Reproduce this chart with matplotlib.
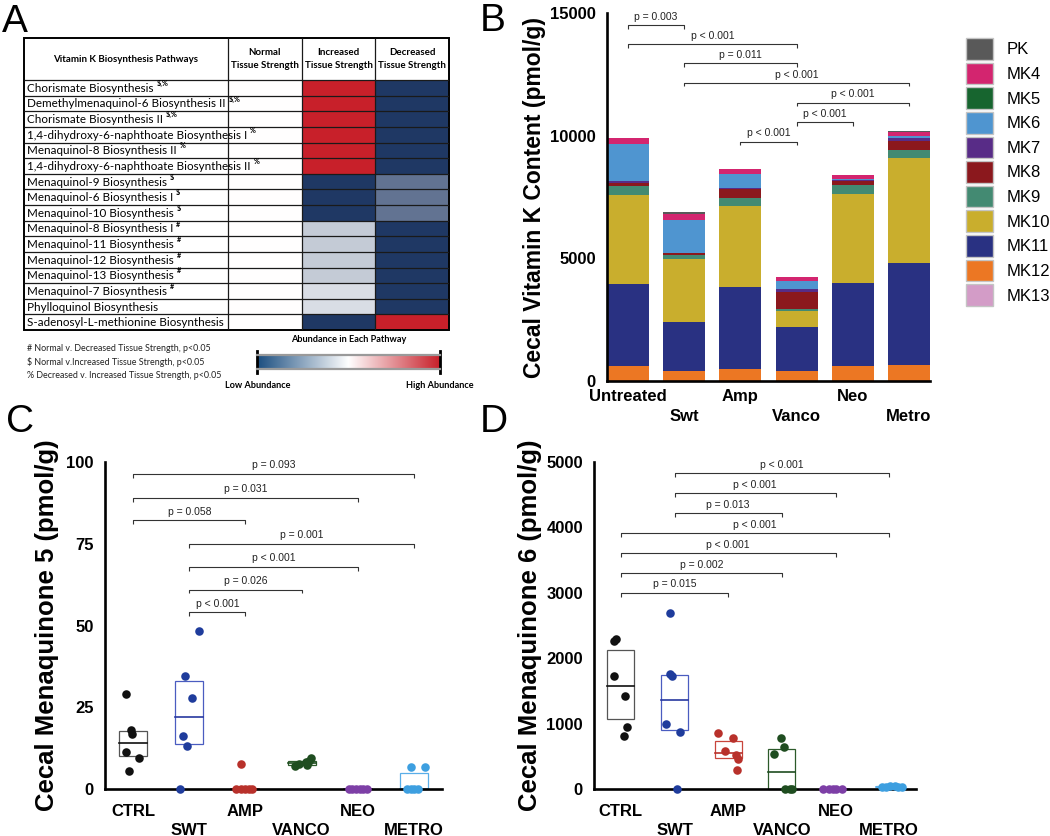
import numpy as np
import matplotlib.pyplot as plt
from matplotlib.patches import Patch, Rectangle
from matplotlib.colors import LinearSegmentedColormap

plt.rcParams['font.family'] = ['Liberation Sans', 'DejaVu Sans']

# ---------------- Panel A data ----------------
pathways = [
    "Chorismate Biosynthesis", "Demethylmenaquinol-6 Biosynthesis II",
    "Chorismate Biosynthesis II", "1,4-dihydroxy-6-naphthoate Biosynthesis I",
    "Menaquinol-8 Biosynthesis II", "1,4-dihydroxy-6-naphthoate Biosynthesis II",
    "Menaquinol-9 Biosynthesis", "Menaquinol-6 Biosynthesis I",
    "Menaquinol-10 Biosynthesis", "Menaquinol-8 Biosynthesis I",
    "Menaquinol-11 Biosynthesis", "Menaquinol-12 Biosynthesis",
    "Menaquinol-13 Biosynthesis", "Menaquinol-7 Biosynthesis",
    "Phylloquinol Biosynthesis", "S-adenosyl-L-methionine Biosynthesis",
]
pathway_marks = ["$,%", "$,%", "$,%", "%", "%", "%", "$", "$", "$",
                 "#", "#", "#", "#", "#", "", ""]
strength_cols = ["Normal\nTissue Strength", "Increased\nTissue Strength",
                 "Decreased\nTissue Strength"]
# relative abundance, -1 = low, 0 = neutral, 1 = high
abund_normal = [0] * 16
abund_increased = [1, 1, 1, 1, 1, 1, -1, -1, -1, -0.26, -0.26, -0.26, -0.26, -0.17, -0.17, -1]
abund_decreased = [-1, -1, -1, -1, -1, -1, -0.7, -0.7, -0.7, -1, -1, -1, -1, -1, -1, 1]
footnotes = ["# Normal v. Decreased Tissue Strength, p<0.05",
             "$ Normal v.Increased Tissue Strength, p<0.05",
             "% Decreased v. Increased Tissue Strength, p<0.05"]

# ---------------- Panel B data ----------------
b_groups = ["Untreated", "Swt", "Amp", "Vanco", "Neo", "Metro"]
vk_names = ["PK", "MK4", "MK5", "MK6", "MK7", "MK8", "MK9", "MK10", "MK11", "MK12", "MK13"]
vk_colors = ["#595959", "#d3256f", "#17652f", "#4f95d0", "#582c87", "#8b181d",
             "#438a72", "#c9ae2d", "#293182", "#ec7723", "#d39cc7"]
pk = [0, 50, 0, 0, 0, 40]
mk4 = [245, 245, 200, 165, 170, 170]
mk5 = [0, 0, 0, 0, 0, 0]
mk6 = [1530, 1350, 580, 325, 30, 70]
mk7 = [50, 30, 30, 120, 40, 120]
mk8 = [160, 80, 400, 690, 200, 370]
mk9 = [330, 160, 290, 85, 330, 330]
mk10 = [3660, 2560, 3330, 645, 3660, 4300]
mk11 = [3340, 2000, 3330, 1800, 3370, 4150]
mk12 = [600, 400, 490, 400, 610, 650]
mk13 = [0, 0, 0, 0, 0, 0]
vk_values = [pk, mk4, mk5, mk6, mk7, mk8, mk9, mk10, mk11, mk12, mk13]

b_pairs = [(0, 1), (0, 3), (1, 3), (1, 5), (3, 5), (3, 4), (2, 3)]
b_heights = [14500, 13720, 12950, 12150, 11350, 10550, 9760]
b_pvals = ["p = 0.003", "p < 0.001", "p = 0.011", "p < 0.001", "p < 0.001", "p < 0.001", "p < 0.001"]

# ---------------- Panels C / D data ----------------
cd_groups = ["CTRL", "SWT", "AMP", "VANCO", "NEO", "METRO"]
cd_colors = ["#111111", "#1f3c9c", "#b8312b", "#1f4d20", "#7d3fa6", "#3d9fe0"]
box_colors = ["#555555", "#4a5cc0", "#c8453c", "#2c5a2a", "#7d3fa6", "#5aaee8"]
med_colors = ["#111111", "#2838a0", "#b8312b", "#1f4d20", "#7d3fa6", "#5aaee8"]

mk5_values = [
    [29.1, 17.9, 16.9, 11.3, 9.6, 5.4],
    [48.4, 34.7, 27.8, 16.1, 13.1, 0],
    [7.6, 0, 0, 0, 0, 0],
    [7.0, 7.3, 9.5, 8.6, 8.3, 7.6],
    [0, 0, 0, 0, 0, 0],
    [6.6, 6.8, 0, 0, 0, 0],
]
mk5_jitter = [
    [-0.12, -0.04, -0.02, -0.12, 0.11, -0.07],
    [0.18, -0.07, 0.05, -0.11, -0.04, -0.16],
    [-0.07, -0.16, -0.08, 0.0, 0.06, 0.12],
    [-0.12, 0.1, 0.16, 0.13, 0.07, -0.05],
    [-0.16, -0.1, -0.04, 0.04, 0.1, 0.16],
    [-0.05, 0.2, -0.12, 0.07, -0.05, 0.0],
]
c_pairs = [(0, 5), (0, 4), (0, 2), (1, 5), (1, 4), (1, 3), (1, 2)]
c_heights = [96.4, 89.1, 82.3, 75.0, 68.0, 61.0, 54.0]
c_pvals = ["p = 0.093", "p = 0.031", "p = 0.058", "p = 0.001", "p < 0.001", "p = 0.026", "p < 0.001"]

mk6_values = [
    [2294, 2263, 1728, 1422, 948, 810],
    [2690, 1758, 1728, 994, 872, 0],
    [856, 780, 581, 520, 459, 290],
    [780, 642, 535, 0, 0, 0],
    [0, 0, 0, 0, 0],
    [25, 35, 40, 45, 35, 30],
]
mk6_jitter = [
    [-0.09, -0.13, -0.13, 0.07, 0.11, 0.06],
    [-0.09, -0.09, -0.04, -0.15, 0.11, 0.04],
    [-0.19, 0.09, -0.06, 0.15, 0.19, 0.17],
    [-0.02, 0.04, -0.15, 0.06, 0.15, 0.19],
    [-0.24, -0.13, -0.04, 0.0, 0.13],
    [-0.13, -0.05, 0.02, 0.1, 0.17, 0.24],
]
d_pairs = [(1, 5), (1, 4), (1, 3), (0, 5), (0, 4), (0, 3), (0, 2)]
d_heights = [4830, 4525, 4220, 3915, 3610, 3300, 3000]
d_pvals = ["p < 0.001", "p < 0.001", "p = 0.013", "p < 0.001", "p < 0.001", "p = 0.002", "p = 0.015"]

# ---------------- figure ----------------
W, H = 1050, 836
fig = plt.figure(figsize=(W / 100, H / 100), dpi=100)


def px_axes(x0, y0, x1, y1):
    return fig.add_axes([x0 / W, 1 - y1 / H, (x1 - x0) / W, (y1 - y0) / H])


def bracket(ax, i, j, y, label, drop):
    ax.plot([i, i, j, j], [y - drop, y, y, y - drop], color="#333333", lw=0.8,
            clip_on=False, solid_capstyle="butt")
    ax.annotate(label, xy=((i + j) / 2, y), xytext=(0, 6), textcoords="offset points",
                ha="center", va="center", fontsize=7.5, color="#222222")


def style_axes(ax, labels, xpad):
    for s in ["top", "right"]:
        ax.spines[s].set_visible(False)
    for s in ["left", "bottom"]:
        ax.spines[s].set_linewidth(1.9)
    ax.tick_params(length=0, labelsize=12)
    ax.tick_params(axis="y", pad=8)
    ax.tick_params(axis="x", pad=xpad)
    ax.set_xticks(range(len(labels)))
    ax.set_xticklabels([t if k % 2 == 0 else "\n" + t for k, t in enumerate(labels)])
    for lbl in ax.get_xticklabels() + ax.get_yticklabels():
        lbl.set_fontweight("bold")
        lbl.set_linespacing(1.35)


# ---- Panel A: table heatmap ----
heat_cmap = LinearSegmentedColormap.from_list("heat", ["#1f3864", "#ffffff", "#c8202a"])
bar_cmap = LinearSegmentedColormap.from_list("abund", ["#1b4e80", "#ffffff", "#c8202a"])

ax_a = px_axes(24, 38, 449, 330)
ax_a.set_xlim(0, 425)
ax_a.set_ylim(292, 0)
ax_a.axis("off")
name_w, head_h = 204, 42
col_w = (425 - name_w) / 3
row_h = (292 - head_h) / len(pathways)
x_edges = name_w + col_w * np.arange(4)
y_edges = head_h + row_h * np.arange(len(pathways) + 1)
grid = np.column_stack([abund_normal, abund_increased, abund_decreased])
ax_a.pcolormesh(x_edges, y_edges, grid, cmap=heat_cmap, vmin=-1, vmax=1)
ax_a.hlines(y_edges, 0, 425, colors="#1a1a1a", lw=0.9)
ax_a.vlines(x_edges, 0, 292, colors="#1a1a1a", lw=0.9)
ax_a.add_patch(Rectangle((0, 0), 425, 292, fill=False, lw=1.4, ec="black", clip_on=False))

tfont = ["Lato", "DejaVu Sans"]
ax_a.text(name_w / 2, head_h / 2, "Vitamin K Biosynthesis Pathways", ha="center", va="center",
          fontsize=7, fontweight="bold", family=tfont)
for k, col in enumerate(strength_cols):
    ax_a.text(x_edges[k] + col_w / 2, head_h / 2, col, ha="center", va="center",
              fontsize=7, fontweight="bold", family=tfont, linespacing=1.5)
for k, (name, mark) in enumerate(zip(pathways, pathway_marks)):
    t = ax_a.text(3, y_edges[k] + row_h / 2 + 0.5, name, ha="left", va="center",
                  fontsize=8.4, family=tfont)
    if mark:
        # superscript significance marks just after the pathway name
        ax_a.annotate(mark, xy=(1, 0.62), xycoords=t, xytext=(2, 0),
                      textcoords="offset points", ha="left", va="bottom",
                      fontsize=5.2, fontweight="bold", family=tfont)

for k, note in enumerate(footnotes):
    fig.text(27 / W, 1 - (348 + 13.5 * k) / H, note, ha="left", va="center",
             fontsize=6.4, family=tfont, color="#222222")
fig.text(349 / W, 1 - 339 / H, "Abundance in Each Pathway", ha="center", va="center",
         fontsize=6.6, fontweight="bold", family=tfont)
fig.text(258 / W, 1 - 385 / H, "Low Abundance", ha="center", va="center",
         fontsize=6.6, fontweight="bold", family=tfont)
fig.text(440 / W, 1 - 385 / H, "High Abundance", ha="center", va="center",
         fontsize=6.6, fontweight="bold", family=tfont)

ax_cb = px_axes(257, 355, 440, 369)
ax_cb.imshow(np.linspace(-1, 1, 256)[None, :], aspect="auto", cmap=bar_cmap,
             extent=(0, 1, 0, 1))
ax_cb.set_xticks([])
ax_cb.set_yticks([])
for s in ["left", "right"]:
    ax_cb.spines[s].set_visible(False)
for s in ["top", "bottom"]:
    ax_cb.spines[s].set_color("#9a9a9a")
    ax_cb.spines[s].set_linewidth(1.6)
for xe in [0, 1]:
    ax_cb.plot([xe, xe], [-0.3, 1.3], color="black", lw=2, clip_on=False)
ax_cb.set_xlim(0, 1)
ax_cb.set_ylim(0, 1)

# ---- Panel B: stacked bars ----
ax_b = px_axes(607, 13, 930, 381)
xb = np.arange(len(b_groups))
bottom = np.zeros(len(b_groups))
for name, color, vals in reversed(list(zip(vk_names, vk_colors, vk_values))):
    ax_b.bar(xb, vals, width=0.75, bottom=bottom, color=color, edgecolor="none")
    bottom += np.array(vals)
ax_b.set_xlim(-0.375, 5.375)
ax_b.set_ylim(0, 15000)
ax_b.set_yticks([0, 5000, 10000, 15000])
style_axes(ax_b, b_groups, 6)
ax_b.set_ylabel("Cecal Vitamin K Content (pmol/g)", fontsize=16.5, fontweight="bold", labelpad=3)
for (i, j), y, p in zip(b_pairs, b_heights, b_pvals):
    bracket(ax_b, i, j, y, p, 140)

handles = [Patch(facecolor=c, edgecolor="#c4c4c4", lw=1) for c in vk_colors]
fig.legend(handles, vk_names, loc="upper left", bbox_to_anchor=(966 / W, 1 - 38 / H),
           frameon=False, fontsize=12, handlelength=1.62, handleheight=1.62,
           labelspacing=0.18, handletextpad=0.84, borderpad=0, borderaxespad=0)


# ---- Panels C and D: dot + box plots ----
def dot_box(ax, values, jitter, pairs, heights, pvals, drop):
    for g, (vals, jit) in enumerate(zip(values, jitter)):
        q1, med, q3 = np.percentile(vals, [25, 50, 75])
        ax.add_patch(Rectangle((g - 0.25, q1), 0.5, q3 - q1, fill=False,
                               ec=box_colors[g], lw=0.9, clip_on=False, zorder=2))
        ax.plot([g - 0.25, g + 0.25], [med, med], color=med_colors[g], lw=1.2,
                clip_on=False, zorder=2)
        ax.scatter(g + np.array(jit), vals, s=38, color=cd_colors[g], lw=0,
                   clip_on=False, zorder=3)
    for (i, j), y, p in zip(pairs, heights, pvals):
        bracket(ax, i, j, y, p, drop)
    ax.set_xlim(-0.5, 5.5)


ax_c = px_axes(105, 462, 442, 789)
dot_box(ax_c, mk5_values, mk5_jitter, c_pairs, c_heights, c_pvals, 1.2)
ax_c.set_ylim(0, 100)
ax_c.set_yticks([0, 25, 50, 75, 100])
style_axes(ax_c, cd_groups, 10.5)
ax_c.set_ylabel("Cecal Menaquinone 5 (pmol/g)", fontsize=18.5, fontweight="bold", labelpad=5)

ax_d = px_axes(594, 462, 916, 789)
dot_box(ax_d, mk6_values, mk6_jitter, d_pairs, d_heights, d_pvals, 60)
ax_d.set_ylim(0, 5000)
ax_d.set_yticks([0, 1000, 2000, 3000, 4000, 5000])
style_axes(ax_d, cd_groups, 10.5)
ax_d.set_ylabel("Cecal Menaquinone 6 (pmol/g)", fontsize=18.5, fontweight="bold", labelpad=3)

# panel letters
for letter, x, y in [("A", 15, 32), ("B", 493, 31), ("C", 20, 432), ("D", 494, 432)]:
    fig.text(x / W, 1 - y / H, letter, ha="center", va="baseline", fontsize=28)

fig.savefig("out.png", dpi=100)
